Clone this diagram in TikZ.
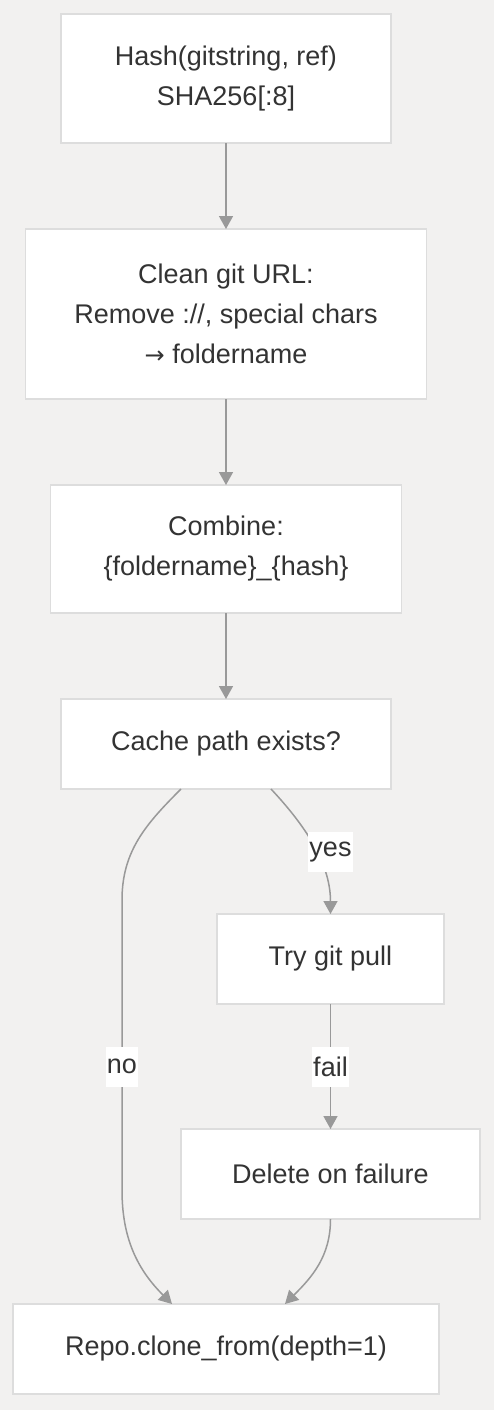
\documentclass[tikz,border=0pt]{standalone}
\usepackage{fontspec}
\setmainfont{Liberation Sans}
\newfontfamily\arrowfont{DejaVu Sans}
\usetikzlibrary{positioning,arrows.meta}
\definecolor{bgcol}{RGB}{242,241,240}
\definecolor{edgecol}{RGB}{153,153,153}
\definecolor{boxline}{RGB}{221,221,221}
\definecolor{txtcol}{RGB}{51,51,51}

\begin{document}
	\begin{tikzpicture}[
			x=1pt, y=1pt,
			font=\fontsize{27}{40}\selectfont,
			flowbox/.style={
				draw=boxline,
				line width=1.2pt,
				fill=white,
				text=txtcol,
				align=center,
				inner sep=0,
				outer sep=0,
				minimum height=90pt
			},
			flowlink/.style={
				draw=edgecol,
				line width=1.5pt,
				-{Triangle[length=13pt,width=14pt]}
			},
			flowlabel/.style={
				fill=white,
				text=txtcol,
				inner xsep=1pt,
				inner ysep=0,
				minimum height=40pt
			}
		]

		\fill[bgcol] (0,0) rectangle (494,-1410);
		\useasboundingbox (0,0) rectangle (494,-1410);

		\node [flowbox, minimum width=330pt, minimum height=129pt] (H) at (226,-78.5) {Hash(gitstring, ref)\\SHA256[:8]};
		\node [flowbox, minimum width=401pt, minimum height=170pt, below=86pt of H] (C) {Clean git URL:\\Remove :{/}/, special chars\\{\arrowfont\fontsize{24}{40}\selectfont →} foldername};
		\node [flowbox, minimum width=351pt, minimum height=128pt, below=86pt of C] (M) {Combine:\\\{foldername\}\_\{hash\}};
		\node [flowbox, minimum width=330pt, below=86pt of M] (E) {Cache path exists?};
		\node [flowbox, minimum width=227pt] (P) at (330.5,-959) {Try git pull};
		\node [flowbox, minimum width=299pt, below=125pt of P] (D) {Delete on failure};
		\node [flowbox, minimum width=426pt] (R) at (226,-1349) {Repo.clone\_from(depth=1)};

		\coordinate (nTop) at (122,-900);
		\coordinate (nBot) at (122,-1190);

		\draw[flowlink] (H) -- (C);
		\draw[flowlink] (C) -- (M);
		\draw[flowlink] (M) -- (E);
		\draw[flowlink] (E.315) .. controls (300,-820) and (330.5,-860) .. (P.north);
		\node [flowlabel] (yes) at (330.5,-852) {yes};
		\draw[flowlink] (P) -- node[flowlabel, midway] (fail) {fail} (D);
		\draw[flowlink] (E.225.6) to[out=-135, in=90] (nTop) -- node[flowlabel, pos=0.575] (no) {no} (nBot) to[out=-90, in=135] ([xshift=-54pt]R.north);
		\draw[flowlink] (D) to[out=-90, in=45] ([xshift=59pt]R.north);
		%\draw[flowlink] (E.south) -- (R.north);

	\end{tikzpicture}
\end{document}
